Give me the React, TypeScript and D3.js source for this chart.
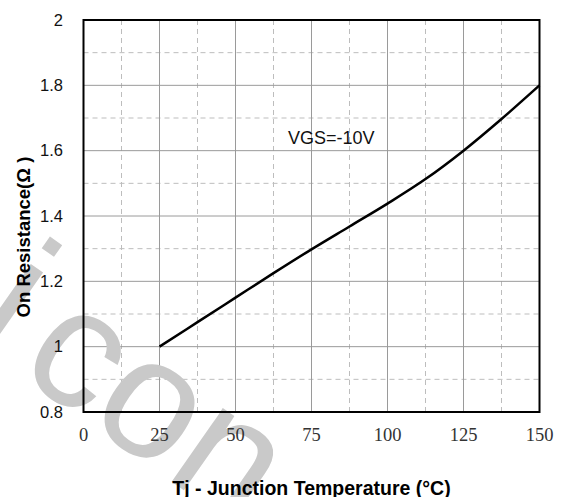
import React from 'react'
import * as d3 from 'd3'

// chart data
const temps = [25, 37.5, 50, 62.5, 75, 87.5, 100, 112.5, 125, 137.5, 150]
const rdson = [1.0, 1.075, 1.15, 1.225, 1.298, 1.368, 1.438, 1.513, 1.6, 1.697, 1.8]
const xTicks = [0, 25, 50, 75, 100, 125, 150]
const xMinor = [12.5, 37.5, 62.5, 87.5, 112.5, 137.5]
const yTicks = [0.8, 1, 1.2, 1.4, 1.6, 1.8, 2]
const yMinor = [0.9, 1.1, 1.3, 1.5, 1.7, 1.9]
const seriesLabel = 'VGS=-10V'

const W = 561
const H = 497
const margin = { left: 83.5, right: 21.5, top: 20, bottom: 85 }

const x = d3.scaleLinear().domain([0, 150]).range([margin.left, W - margin.right])
const y = d3.scaleLinear().domain([0.8, 2]).range([H - margin.bottom, margin.top])

const SANS = 'Liberation Sans, Arial, sans-serif'

const Grid = () => {
    const [x0, x1] = x.range()
    const [y0, y1] = y.range()
    return (
        <g>
            {xMinor.map(t => (
                <line key={'xm' + t} x1={x(t)} x2={x(t)} y1={y0} y2={y1}
                    stroke="#bdbdbd" strokeWidth={1} strokeDasharray="5,4" />
            ))}
            {yMinor.map(t => (
                <line key={'ym' + t} x1={x0} x2={x1} y1={y(t)} y2={y(t)}
                    stroke="#bdbdbd" strokeWidth={1} strokeDasharray="5,4" />
            ))}
            {xTicks.map(t => (
                <line key={'x' + t} x1={x(t)} x2={x(t)} y1={y0} y2={y1}
                    stroke="#9a9a9a" strokeWidth={1} />
            ))}
            {yTicks.map(t => (
                <line key={'y' + t} x1={x0} x2={x1} y1={y(t)} y2={y(t)}
                    stroke="#9a9a9a" strokeWidth={1} />
            ))}
        </g>
    )
}

// faint site watermark running across the lower left corner
const Watermark = () => (
    <g fill="#c9c9c9" fontFamily={SANS} fontSize={170}>
        <text x={-30} y={331} transform="rotate(35, -30, 331)">i</text>
        <text x={15} y={372} transform="rotate(35, 15, 372)">con</text>
    </g>
)

const Axes = () => {
    const [x0, x1] = x.range()
    const [y0, y1] = y.range()
    return (
        <g>
            <rect x={x0} y={y1} width={x1 - x0} height={y0 - y1}
                fill="none" stroke="#000" strokeWidth={2} />
            {yTicks.map(t => (
                <text key={'yl' + t} x={63} y={y(t)} dy="0.35em" textAnchor="end"
                    fontFamily={SANS} fontSize={16.5} fill="#111">
                    {d3.format('~g')(t)}
                </text>
            ))}
            {xTicks.map(t => (
                <text key={'xl' + t} x={x(t)} y={440.5} textAnchor="middle"
                    fontFamily="Liberation Serif, Times New Roman, serif" fontSize={18.5} fill="#333">
                    {t}
                </text>
            ))}
            <text x={(x0 + x1) / 2} y={494.5} textAnchor="middle"
                fontFamily={SANS} fontWeight="bold" fontSize={19.5} fill="#000">
                Tj - Junction Temperature (°C)
            </text>
            <text transform="translate(30, 237) rotate(-90)" textAnchor="middle"
                fontFamily={SANS} fontWeight="bold" fontSize={18.5} fill="#000">
                On Resistance(Ω )
            </text>
        </g>
    )
}

const Curve = () => {
    const pts: [number, number][] = temps.map((t, i) => [t, rdson[i]])
    const line = d3.line<[number, number]>()
        .x(d => x(d[0]))
        .y(d => y(d[1]))
        .curve(d3.curveMonotoneX)
    return (
        <g>
            <path d={line(pts) || ''} fill="none" stroke="#000" strokeWidth={2.5} />
            <text x={288} y={144} fontFamily={SANS} fontSize={18} fill="#111">
                {seriesLabel}
            </text>
        </g>
    )
}

export default function App() {
    return (
        <svg width={W} height={H} style={{ position: 'absolute', left: 0, top: 0, background: '#fff' }}>
            <rect width={W} height={H} fill="#fff" />
            <Grid />
            <Watermark />
            <Curve />
            <Axes />
        </svg>
    )
}
